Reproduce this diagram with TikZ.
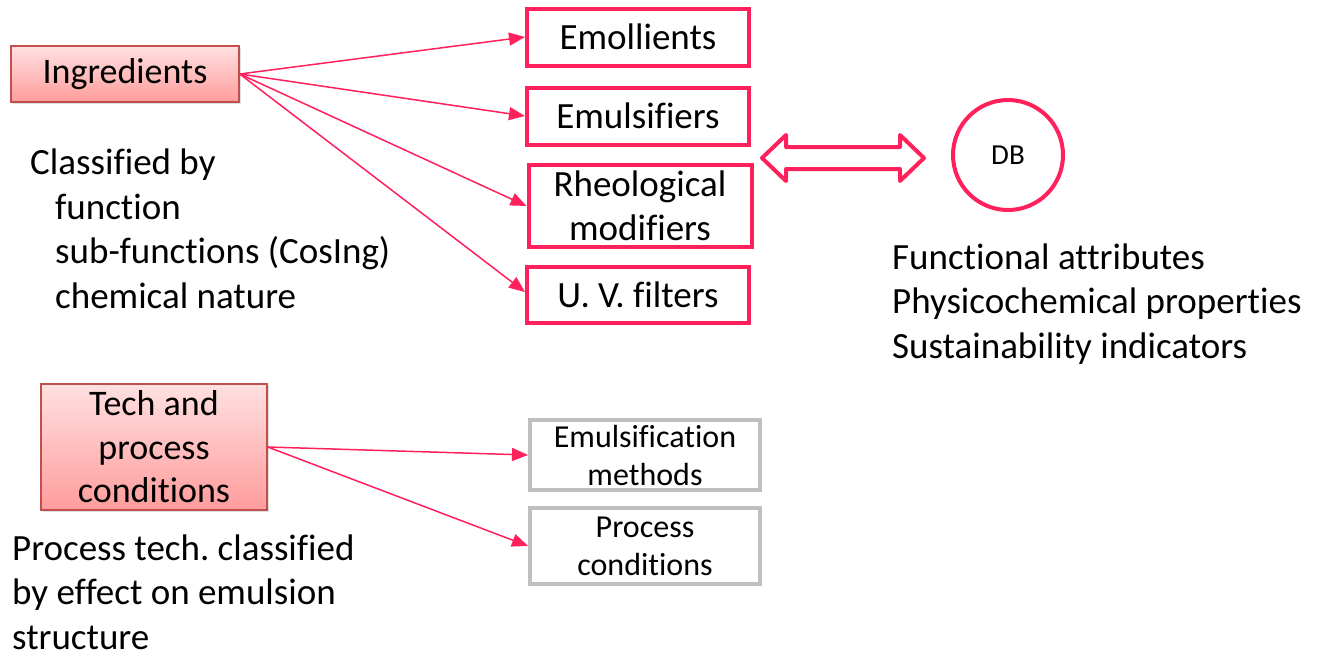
\documentclass[tikz,border=0pt]{standalone}
\usepackage{fontspec}
\setmainfont{Carlito}[Ligatures=CommonOff]
\usetikzlibrary{positioning, shapes, arrows.meta, shadows}

\definecolor{hotpink}{RGB}{255,32,92}
\definecolor{boxgray}{RGB}{191,191,191}
\definecolor{rimred}{RGB}{192,80,77}
\definecolor{toppink}{RGB}{255,224,224}
\definecolor{botpink}{RGB}{255,156,156}

\tikzset{
  big/.style={font=\fontsize{37}{44.5}\selectfont},
  cat/.style={draw=rimred, line width=1.5pt, top color=toppink, bottom color=botpink,
    drop shadow={shadow xshift=2pt, shadow yshift=-2pt, opacity=0.25},
    font=\fontsize{36}{43.5}\selectfont, align=center, inner sep=0pt},
  fn/.style={draw=hotpink, line width=4pt, big, minimum width=222pt, align=center, inner sep=0pt},
  method/.style={draw=boxgray, line width=4pt, font=\fontsize{32}{38}\selectfont,
    minimum width=230pt, align=center, inner sep=0pt},
  feed/.style={draw=hotpink, line width=1.5pt, -{Triangle[length=16pt,width=13pt]}},
  note/.style={big, align=left, anchor=base west, inner sep=0pt}
}

\begin{document}
\begin{tikzpicture}[x=1pt, y=-1pt]
\useasboundingbox (0,0) rectangle (1317,654);

\node (ingr) [cat, minimum width=228pt, minimum height=56pt] at (125,74) {Ingredients};
\node (tech) [cat, minimum width=226pt, minimum height=126pt] at (154,447) {Tech and\\process\\conditions};

\node (emol) [fn, minimum height=57pt] at (638,37) {Emollients};
\node (emul) [fn, minimum height=57pt] at (638,116) {Emulsifiers};
\node (rheo) [fn, minimum width=223pt, minimum height=82pt] at (640,206) {Rheological\\modifiers};
\node (uvf) [fn, minimum height=56pt] at (638,295) {U. V. filters};

\node (meth) [method, minimum height=70pt] at (645,455) {Emulsification\\methods};
\node (proc) [method, minimum height=76pt] at (645,546) {Process\\conditions};

\node (db) [circle, draw=hotpink, line width=4pt, minimum size=110pt, inner sep=0pt,
  font=\fontsize{29}{34}\selectfont] at (1008,155) {DB};

\draw [hotpink, line width=4pt, line join=round]
  (762,158) -- (786,135) -- (786,147) -- (900,147) -- (900,135) -- (924,158)
  -- (900,181) -- (900,169) -- (786,169) -- (786,181) -- cycle;

\draw [feed] (ingr.east) -- (emol.west);
\draw [feed] (ingr.east) -- (emul.west);
\draw [feed] (ingr.east) -- (rheo.west);
\draw [feed] (ingr.east) -- ([yshift=3pt]uvf.west);
\draw [feed] (tech.east) -- (meth.west);
\draw [feed] (tech.east) -- (proc.west);

\node (cls) [note] at (30,308) {Classified by\\\hspace*{25pt}function\\\hspace*{25pt}sub-functions (CosIng)\\\hspace*{25pt}chemical nature};
\node (attr) [note] at (892,358) {Functional attributes\\Physicochemical properties\\Sustainability indicators};
\node (ptech) [note] at (12,649) {Process tech.\ classified\\by effect on emulsion\\structure};
\end{tikzpicture}
\end{document}
